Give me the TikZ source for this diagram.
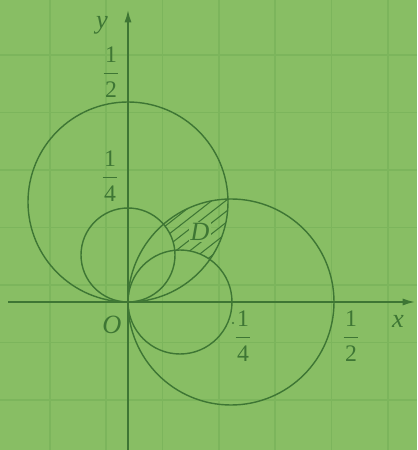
\documentclass[tikz,border=0pt]{standalone}
\usepackage{amsmath}
\usepackage{fontspec}
\setmainfont{Liberation Serif}
\usetikzlibrary{arrows.meta}
\definecolor{bg}{RGB}{136,190,100}
\definecolor{gridc}{RGB}{124,181,92}
\definecolor{ink}{RGB}{62,118,52}
\newcommand{\fracl}[2]{$\dfrac{\mkern1mu\text{#1}\mkern1mu}{\mkern1mu\text{#2}\mkern1mu}$}
\begin{document}
\begin{tikzpicture}[x=0.02cm,y=0.02cm,
  curve/.style={draw=ink, line width=0.8pt},
  axisline/.style={draw=ink, line width=0.9pt, -{Latex[length=7pt,width=4pt]}},
  hatchline/.style={draw=ink, line width=0.6pt},
  gridline/.style={draw=gridc, line width=1pt},
  lab/.style={text=ink, inner sep=0pt, font=\fontsize{15}{17}\selectfont\itshape},
  fraclab/.style={text=ink, inner sep=0pt, font=\fontsize{13.5}{16}\selectfont}]
\fill[bg] (0,0) rectangle (417,450);
\useasboundingbox (0,0) rectangle (417,450);
% grid
\foreach \gx in {50,106.3,162.6,218.9,275.2,331.5,387.8}
  \draw[gridline] (\gx,0) -- (\gx,450);
\foreach \gy in {395,337.5,280,222.5,165,107.5,50}
  \draw[gridline] (0,\gy) -- (417,\gy);
% hatched region D
\begin{scope}[even odd rule]
  \clip (231,148) circle (103);
  \clip (128,248) circle (100);
  \clip (0,0) rectangle (417,450) (180,148) circle (52);
  \clip (0,0) rectangle (417,450) (128,195) circle (47);
  \foreach \i in {0,...,20}
    \draw[hatchline] (100,30+\i*11) -- ++(160,125);
\end{scope}
% circles
\draw[curve] (128,248) circle (100);
\draw[curve] (128,195) circle (47);
\draw[curve] (231,148) circle (103);
\draw[curve] (180,148) circle (52);
% axes
\coordinate (xs) at (8,148);
\coordinate (xe) at (415,148);
\coordinate (ys) at (128,0);
\coordinate (ye) at (128,440);
\draw[axisline] (xs) -- (xe);
\draw[axisline] (ys) -- (ye);
% labels
\node[lab] (ylab) at (102,425) {y};
\node[lab] (xlab) at (398,129) {x};
\node[lab] (olab) at (112,125) {O};
\node[lab, fill=bg, inner sep=1pt] (dlab) at (200,218) {D};
\node[fraclab] (yhalf) at (111,378) {\fracl{1}{2}};
\node[fraclab] (yquart) at (110,274) {\fracl{1}{4}};
\node[fraclab] (xquart) at (243,114) {\fracl{1}{4}};
\node[fraclab] (xhalf) at (351,114) {\fracl{1}{2}};
\fill[ink] (233,127) circle (1.2);
\end{tikzpicture}
\end{document}
